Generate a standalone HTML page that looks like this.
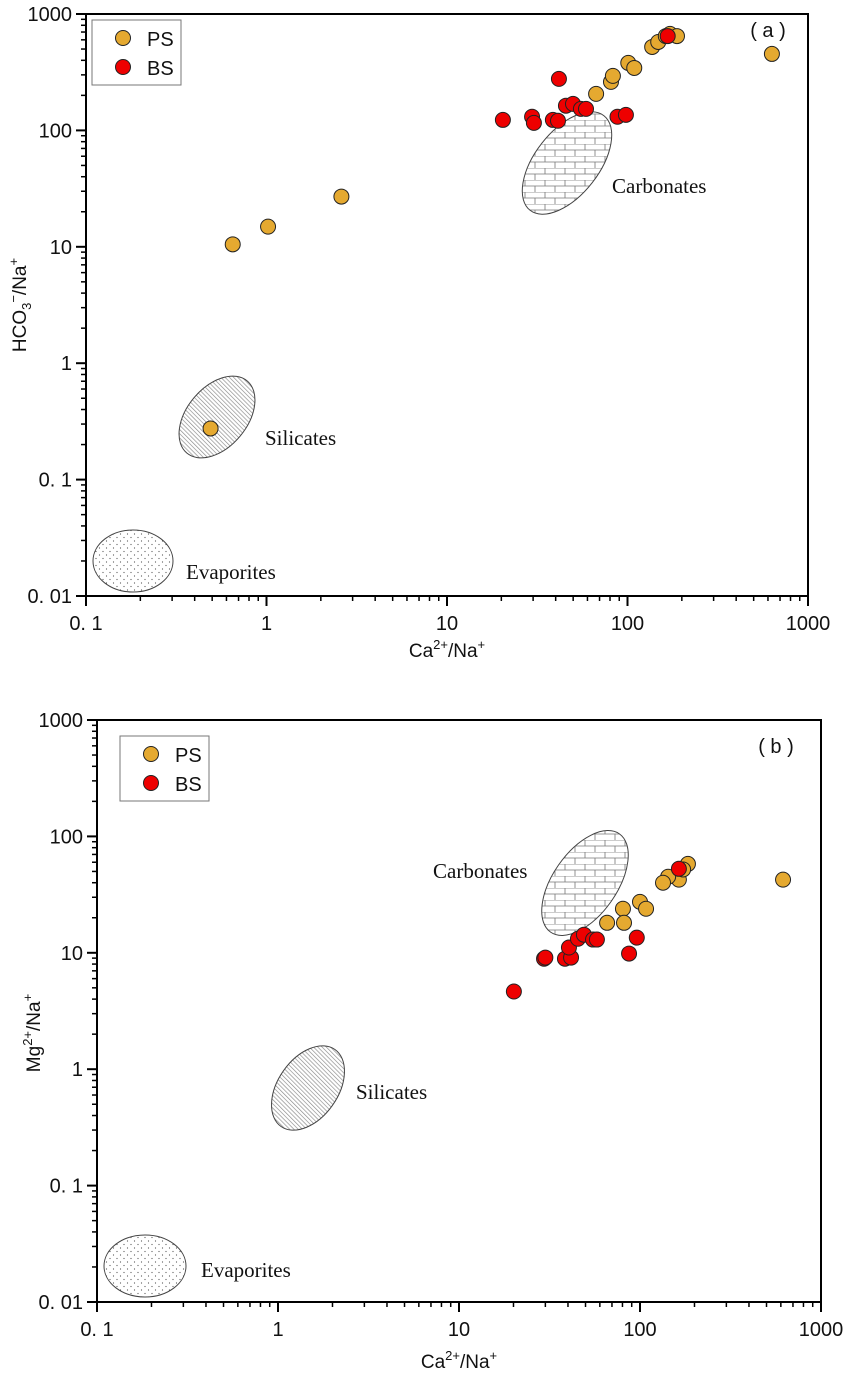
<!DOCTYPE html>
<html><head><meta charset="utf-8"><style>
body{margin:0;background:#fff;}
svg{display:block;}
.tk{font-family:"Liberation Sans","Noto Sans CJK SC",sans-serif;font-size:20px;fill:#111;}
.lab{font-family:"Liberation Serif",serif;font-size:21px;fill:#111;}
.at{font-family:"Liberation Sans",sans-serif;font-size:19px;fill:#111;}
</style></head><body>
<svg id="chart" width="851" height="1376" viewBox="0 0 851 1376" xmlns="http://www.w3.org/2000/svg">
<defs>
<pattern id="brick" patternUnits="userSpaceOnUse" width="20" height="12">
<rect width="20" height="12" fill="#fff"/>
<path d="M0 0H20M0 6H20M5 0V6M15 6V12" stroke="#777" stroke-width="0.8" fill="none"/>
</pattern>
<pattern id="hatch" patternUnits="userSpaceOnUse" width="3" height="3" patternTransform="rotate(-45)">
<rect width="3" height="3" fill="#fff"/>
<line x1="0" y1="0" x2="0" y2="3" stroke="#888" stroke-width="1.3"/>
</pattern>
<pattern id="dots" patternUnits="userSpaceOnUse" width="7" height="7">
<rect width="7" height="7" fill="#fff"/>
<circle cx="1.5" cy="2" r="0.6" fill="#555"/><circle cx="5" cy="5.5" r="0.6" fill="#555"/>
</pattern>
</defs>
</svg>
<script>
// Panel (a) data: Ca/Na vs HCO3/Na
const aPSx=[0.65,1.02,2.6,0.49,67,81,83,101,109,137,148,163,172,188,631];
const aPSy=[10.5,14.9,27,0.275,206,261,294,380,344,521,575,646,675,646,454];
const aBSx=[20.4,29.6,30.3,38.6,41.2,41.7,45.6,49.9,55.2,58.9,88,98,167];
const aBSy=[123,131,116,123,121,277,163,169,153,153,131,136,646];
// Panel (b) data: Ca/Na vs Mg/Na
const bPSx=[617,184,164,173,143,134,100,108,80.5,81.6,65.8];
const bPSy=[42.5,58,42.5,52,45,40,27.4,23.9,23.9,18.1,18.1];
const bBSx=[164,20.1,29.5,30,38.5,41.6,40.5,45.4,49,55,57.8,96,87];
const bBSy=[52.7,4.65,8.9,9.1,8.9,9.1,11.1,13.2,14.3,13,13,13.5,9.85];
const xTicks=[0.1,1,10,100,1000];
const xTickLabels=["0. 1","1","10","100","1000"];
const yTicks=[0.01,0.1,1,10,100,1000];
const yTickLabels=["0. 01","0. 1","1","10","100","1000"];

const NS="http://www.w3.org/2000/svg";
const svg=document.getElementById('chart');
function mk(tag,attrs,parent){const e=document.createElementNS(NS,tag);for(const k in attrs)e.setAttribute(k,attrs[k]);(parent||svg).appendChild(e);return e;}
function ellPath(cx,cy,rx,ry,rot){
  const a=rot*Math.PI/180,dx=rx*Math.cos(a),dy=rx*Math.sin(a);
  return `M${cx-dx} ${cy-dy}A${rx} ${ry} ${rot} 1 0 ${cx+dx} ${cy+dy}A${rx} ${ry} ${rot} 1 0 ${cx-dx} ${cy-dy}Z`;
}

function panel(P){
  const g=mk('g',{});
  
  
  const X=v=>P.x0+(Math.log10(v)+1)*(P.x1-P.x0)/4;
  const Y=v=>P.y1-(Math.log10(v)+2)*(P.y1-P.y0)/5;
  P.regions.forEach(r=>{
    const e=mk('path',{d:ellPath(r.cx,r.cy,r.rx,r.ry,r.rot),fill:`url(#${r.fill})`,stroke:'#444','stroke-width':1},g);
    
    
    const t=mk('text',{x:r.lx,y:r.ly,class:'lab'},g);t.textContent=r.label;
    
    
  });
  const fr=mk('rect',{x:P.x0,y:P.y0,width:P.x1-P.x0,height:P.y1-P.y0,fill:'none',stroke:'#000','stroke-width':2},g);
  
  
  xTicks.forEach((v,i)=>{
    const x=X(v);
    mk('line',{x1:x,x2:x,y1:P.y1,y2:P.y1+10,stroke:'#000','stroke-width':2},g);
    const t=mk('text',{x:x,y:P.y1+34,'text-anchor':'middle',class:'tk'},g);t.textContent=xTickLabels[i];
    
    
    if(i<xTicks.length-1)for(let m=2;m<10;m++){const xm=X(v*m);mk('line',{x1:xm,x2:xm,y1:P.y1,y2:P.y1+5,stroke:'#000','stroke-width':1.5},g);}
  });
  yTicks.forEach((v,i)=>{
    const y=Y(v);
    mk('line',{x1:P.x0-10,x2:P.x0,y1:y,y2:y,stroke:'#000','stroke-width':2},g);
    const t=mk('text',{x:P.x0-14,y:y+7,'text-anchor':'end',class:'tk'},g);t.textContent=yTickLabels[i];
    
    
    if(i<yTicks.length-1)for(let m=2;m<10;m++){const ym=Y(v*m);mk('line',{x1:P.x0-5,x2:P.x0,y1:ym,y2:ym,stroke:'#000','stroke-width':1.5},g);}
  });
  const draw=(xs,ys,col,nm)=>xs.forEach((xv,i)=>{
    const c=mk('circle',{cx:X(xv),cy:Y(ys[i]),r:7.5,fill:col,stroke:'#222','stroke-width':1},g);
    
    
  });
  draw(P.psx,P.psy,'#E5A930','ps-point');
  draw(P.bsx,P.bsy,'#EE0000','bs-point');
  const lg=mk('g',{},g);
  
  
  mk('rect',{x:P.lx,y:P.ly,width:89,height:65,fill:'#fff',stroke:'#777','stroke-width':1},lg);
  [['PS','#E5A930'],['BS','#EE0000']].forEach((s,i)=>{
    const e=mk('circle',{cx:P.lx+31,cy:P.ly+18+i*29,r:7.5,fill:s[1],stroke:'#222','stroke-width':1},lg);
    
    
    const t=mk('text',{x:P.lx+55,y:P.ly+26+i*29,class:'tk'},lg);t.textContent=s[0];
    
    
  });
  const pl=mk('text',{x:P.tagx,y:P.tagy,class:'tk','text-anchor':'middle','font-size':'21'},g);pl.textContent=P.tag;
  
  
  const xt=mk('text',{x:(P.x0+P.x1)/2,y:P.xty,'text-anchor':'middle',class:'at'},g);
  xt.innerHTML='Ca<tspan dy="-8" font-size="13">2+</tspan><tspan dy="8">/Na</tspan><tspan dy="-8" font-size="13">+</tspan>';
  
  
  const yt=mk('text',{x:0,y:0,'text-anchor':'middle',class:'at',transform:`translate(${P.ytx} ${P.yty}) rotate(-90)`},g);
  yt.innerHTML=P.ytitle;
  
  
}

panel({name:'panel-a',x0:86,x1:808,y0:14,y1:596,psx:aPSx,psy:aPSy,bsx:aBSx,bsy:aBSy,lx:92,ly:20,tag:'(  a  )',tagx:768,tagy:37,xty:657,ytx:26,yty:305,
  ytitle:'HCO<tspan dy="5" font-size="13">3</tspan><tspan dy="-13" font-size="13">−</tspan><tspan dy="8">/Na</tspan><tspan dy="-8" font-size="13">+</tspan>',
  regions:[
    {id:'carbonates',cx:567,cy:163,rx:60,ry:32,rot:-52,fill:'brick',label:'Carbonates',lx:612,ly:193},
    {id:'silicates',cx:217,cy:417,rx:47,ry:30,rot:-50,fill:'hatch',label:'Silicates',lx:265,ly:445},
    {id:'evaporites',cx:133,cy:561,rx:40,ry:31,rot:0,fill:'dots',label:'Evaporites',lx:186,ly:579}
  ]});
panel({name:'panel-b',x0:97,x1:821,y0:720,y1:1302,psx:bPSx,psy:bPSy,bsx:bBSx,bsy:bBSy,lx:120,ly:736,tag:'(  b  )',tagx:776,tagy:753,xty:1368,ytx:40,yty:1033,
  ytitle:'Mg<tspan dy="-8" font-size="13">2+</tspan><tspan dy="8">/Na</tspan><tspan dy="-8" font-size="13">+</tspan>',
  regions:[
    {id:'carbonates',cx:585,cy:883,rx:60,ry:32,rot:-55,fill:'brick',label:'Carbonates',lx:433,ly:878},
    {id:'silicates',cx:308,cy:1088,rx:47,ry:30,rot:-55,fill:'hatch',label:'Silicates',lx:356,ly:1099},
    {id:'evaporites',cx:145,cy:1266,rx:41,ry:31,rot:0,fill:'dots',label:'Evaporites',lx:201,ly:1277}
  ]});
</script>
</body></html>
